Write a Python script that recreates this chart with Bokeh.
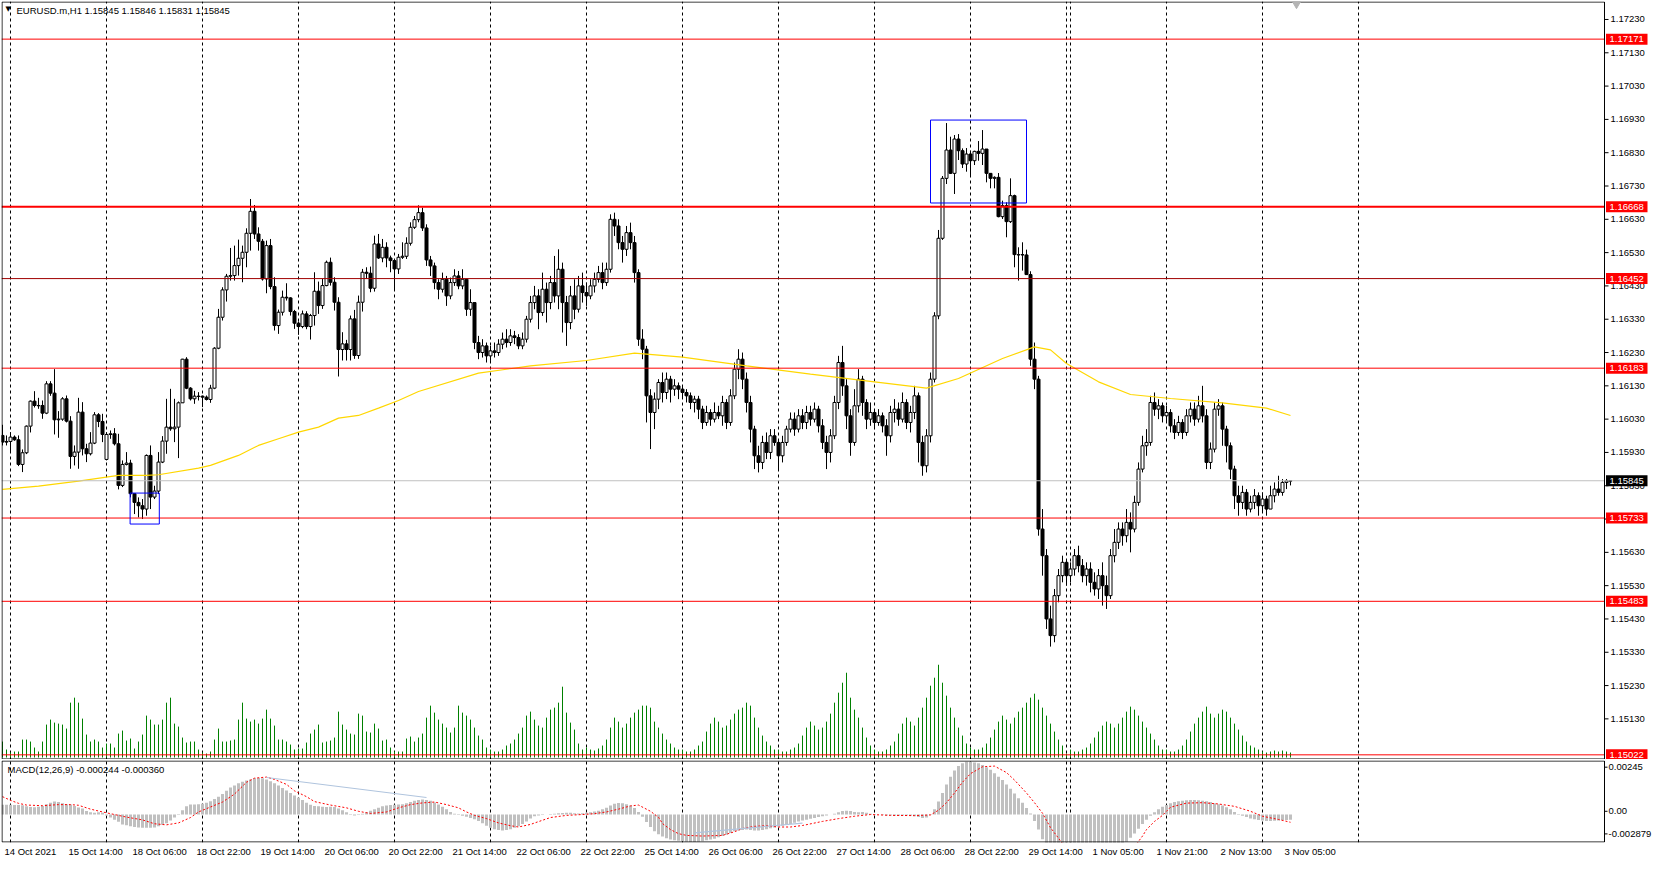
import numpy as np
from bokeh.plotting import figure
from bokeh.layouts import column
from bokeh.models import Range1d, FixedTicker, Label, Grid
from bokeh.core.properties import value
from bokeh.embed import file_html
from bokeh.resources import INLINE

# ---------------- data (prices in 1e-5 above 1.15000) ----------------
BASE = 1.15
PT = 1e-5

close = [
    961, 963, 976, 968, 894, 929, 1009, 1084, 1071, 1071,
    1048, 1136, 1108, 1028, 1030, 1091, 1024, 918, 931, 1051,
    941, 926, 958, 1043, 1023, 984, 984, 986, 956, 831,
    894, 898, 806, 780, 770, 760, 921, 796, 814, 901,
    964, 1006, 1001, 1006, 1079, 1210, 1123, 1091, 1099, 1099,
    1096, 1089, 1123, 1243, 1336, 1418, 1459, 1461, 1491, 1513,
    1531, 1588, 1654, 1586, 1564, 1451, 1551, 1428, 1311, 1351,
    1396, 1394, 1353, 1318, 1308, 1346, 1308, 1341, 1414, 1371,
    1431, 1501, 1441, 1381, 1239, 1256, 1239, 1331, 1221, 1381,
    1471, 1468, 1423, 1556, 1514, 1546, 1514, 1506, 1481, 1516,
    1519, 1558, 1606, 1629, 1650, 1604, 1508, 1490, 1440, 1420,
    1450, 1400, 1440, 1460, 1430, 1450, 1360, 1380, 1260, 1230,
    1250, 1220, 1235, 1230, 1255, 1270, 1260, 1280, 1275, 1250,
    1270, 1330, 1380, 1400, 1350, 1420, 1380, 1440, 1400, 1480,
    1380, 1320, 1400, 1360, 1430, 1410, 1400, 1430, 1450, 1470,
    1440, 1480, 1630, 1610, 1560, 1540, 1590, 1560, 1470, 1270,
    1240, 1100, 1050, 1090, 1140, 1110, 1150, 1120, 1130, 1120,
    1110, 1100, 1080, 1090, 1060, 1020, 1050, 1030, 1050, 1040,
    1080, 1020, 1100, 1180, 1210, 1150, 1080, 1000, 920, 900,
    960, 930, 980, 960, 920, 960, 1000, 1030, 1000, 1040,
    1020, 1050, 1030, 1060, 1010, 960, 930, 980, 1080, 1200,
    1130, 1040, 960, 1070, 1150, 1080, 1030, 1050, 1020, 1040,
    1010, 980, 1050, 1060, 1030, 1080, 1020, 1050, 1100, 960,
    890, 980, 1150, 1340, 1573, 1753, 1838, 1768, 1871, 1836,
    1796, 1826, 1806, 1834, 1828, 1841, 1768, 1753, 1756, 1638,
    1671, 1623, 1701, 1524, 1524, 1523, 1464, 1210, 1150, 700,
    620, 430, 380, 500, 560, 600, 560, 580, 620, 590,
    560, 580, 540, 520, 560, 530, 500, 620, 660, 700,
    680, 720, 700, 780, 880, 950, 960, 1080, 1060, 1070,
    1040, 1050, 1010, 990, 1020, 990, 1040, 1060, 1030, 1070,
    1040, 900, 940, 1060, 1070, 1000, 950, 880, 800, 780,
    810, 760, 780, 800, 770, 790, 760, 800, 820, 810,
    840, 845, 845,
]
high = [
    1013, 981, 991, 981, 981, 939, 1011, 1086, 1114, 1094,
    1086, 1144, 1144, 1180, 1054, 1096, 1101, 1039, 951, 1094,
    1081, 956, 991, 1051, 1048, 1046, 991, 996, 1003, 986,
    906, 931, 908, 806, 795, 790, 924, 951, 830, 931,
    979, 1091, 1121, 1091, 1083, 1211, 1216, 1126, 1115, 1111,
    1101, 1101, 1133, 1246, 1361, 1426, 1466, 1544, 1551, 1569,
    1551, 1603, 1691, 1673, 1606, 1571, 1566, 1571, 1456, 1359,
    1416, 1438, 1396, 1358, 1323, 1356, 1354, 1346, 1471, 1443,
    1451, 1506, 1515, 1456, 1396, 1291, 1268, 1341, 1358, 1401,
    1481, 1486, 1488, 1581, 1586, 1571, 1561, 1521, 1506, 1526,
    1561, 1576, 1621, 1640, 1672, 1665, 1615, 1520, 1500, 1450,
    1470, 1460, 1455, 1480, 1475, 1480, 1450, 1420, 1380, 1280,
    1270, 1260, 1250, 1260, 1270, 1290, 1300, 1300, 1295, 1285,
    1290, 1340, 1400, 1430, 1420, 1470, 1440, 1460, 1520, 1540,
    1500, 1400, 1430, 1450, 1460, 1470, 1440, 1450, 1470, 1490,
    1500, 1500, 1645, 1650, 1630, 1580, 1610, 1620, 1580, 1480,
    1300, 1250, 1120, 1110, 1150, 1170, 1170, 1160, 1150, 1140,
    1130, 1120, 1110, 1100, 1100, 1070, 1070, 1060, 1080, 1070,
    1100, 1090, 1120, 1200, 1240, 1230, 1170, 1100, 1010, 950,
    980, 990, 1000, 1000, 970, 980, 1010, 1050, 1050, 1060,
    1060, 1070, 1070, 1080, 1070, 1030, 980, 1000, 1100, 1220,
    1250, 1150, 1060, 1120, 1180, 1160, 1090, 1080, 1060, 1060,
    1050, 1030, 1070, 1090, 1080, 1110, 1090, 1070, 1130, 1110,
    980, 1000, 1170, 1351, 1598, 1760, 1919, 1878, 1883, 1886,
    1843, 1844, 1836, 1836, 1865, 1898, 1841, 1769, 1759, 1769,
    1686, 1681, 1753, 1704, 1546, 1561, 1539, 1474, 1260, 1160,
    760, 640, 470, 520, 580, 620, 610, 600, 640, 650,
    610, 600, 600, 570, 580, 600, 560, 640, 700, 720,
    720, 760, 750, 800, 900, 980, 1000, 1100, 1110, 1090,
    1080, 1070, 1060, 1030, 1040, 1030, 1060, 1080, 1080, 1100,
    1130, 1060, 960, 1080, 1090, 1080, 1010, 960, 890, 830,
    830, 820, 800, 820, 810, 810, 800, 830, 840, 860,
    850, 850, 846,
]
low = [
    951, 951, 929, 965, 889, 871, 925, 990, 1065, 1061,
    1031, 1045, 1100, 984, 974, 1025, 1020, 881, 891, 881,
    921, 901, 921, 955, 1006, 961, 906, 971, 951, 819,
    826, 891, 795, 745, 735, 730, 740, 760, 790, 805,
    898, 926, 995, 961, 913, 1079, 1120, 1086, 1076, 1086,
    1066, 1086, 1079, 1120, 1240, 1326, 1383, 1446, 1446, 1461,
    1441, 1486, 1536, 1571, 1536, 1446, 1408, 1420, 1296, 1286,
    1341, 1386, 1341, 1301, 1283, 1303, 1300, 1269, 1311, 1346,
    1361, 1429, 1431, 1356, 1158, 1206, 1206, 1206, 1211, 1211,
    1353, 1451, 1411, 1413, 1511, 1501, 1486, 1471, 1416, 1466,
    1511, 1511, 1551, 1601, 1621, 1595, 1490, 1460, 1420, 1390,
    1410, 1370, 1390, 1430, 1420, 1420, 1340, 1340, 1240, 1210,
    1215, 1200, 1205, 1215, 1220, 1240, 1245, 1250, 1255, 1240,
    1240, 1260, 1320, 1360, 1300, 1340, 1320, 1360, 1380, 1360,
    1290, 1250, 1300, 1330, 1350, 1380, 1370, 1390, 1410, 1440,
    1420, 1430, 1470, 1580, 1540, 1500, 1520, 1540, 1440, 1250,
    1210, 1020, 940, 1000, 1060, 1080, 1090, 1080, 1100, 1090,
    1095, 1080, 1060, 1050, 1030, 1000, 1010, 1010, 1020, 1030,
    1010, 1000, 1010, 1090, 1150, 1120, 1050, 960, 880, 870,
    880, 910, 910, 950, 880, 900, 950, 990, 980, 990,
    1000, 1000, 1010, 1020, 990, 940, 880, 900, 970, 1060,
    1100, 1000, 920, 950, 1050, 1040, 1000, 1010, 1000, 1010,
    990, 920, 960, 1020, 1010, 1020, 1000, 990, 1030, 900,
    860, 870, 960, 1140, 1330, 1568, 1736, 1766, 1706, 1808,
    1784, 1773, 1759, 1793, 1806, 1793, 1741, 1723, 1723, 1636,
    1631, 1576, 1619, 1486, 1446, 1476, 1463, 1190, 1120, 680,
    560, 400, 347, 360, 480, 540, 530, 540, 560, 570,
    540, 530, 510, 500, 490, 470, 460, 490, 600, 640,
    650, 660, 630, 690, 770, 870, 920, 950, 1040, 1030,
    1020, 1020, 990, 970, 980, 970, 980, 1020, 1010, 1020,
    1020, 880, 880, 930, 1040, 950, 900, 850, 760, 740,
    760, 740, 750, 760, 740, 750, 740, 760, 780, 800,
    800, 820, 831,
]
OPEN_FIRST = 981            # open of the first bar
OPEN_GAPS = {26: 909}       # Monday opening gap; other bars open at the previous close

volume = [
    16, 8, 5, 6, 6, 18, 18, 16, 10, 6,
    16, 33, 38, 35, 34, 33, 29, 55, 60, 55,
    39, 23, 16, 18, 16, 10, 14, 14, 10, 24,
    27, 17, 19, 9, 16, 23, 42, 38, 33, 33,
    38, 55, 60, 34, 31, 20, 15, 16, 16, 8,
    5, 4, 6, 18, 29, 16, 16, 17, 18, 38,
    55, 39, 36, 38, 34, 39, 48, 39, 32, 18,
    18, 16, 13, 8, 9, 9, 15, 24, 28, 33,
    15, 16, 17, 20, 46, 33, 28, 24, 23, 44,
    42, 26, 25, 34, 29, 17, 18, 10, 6, 6,
    6, 19, 21, 16, 20, 24, 40, 52, 45, 38,
    34, 30, 25, 30, 52, 45, 42, 38, 30, 22,
    18, 10, 8, 6, 6, 8, 12, 14, 18, 24,
    30, 42, 46, 38, 32, 30, 40, 48, 50, 55,
    71, 45, 35, 28, 14, 8, 10, 8, 7, 9,
    12, 18, 30, 40, 36, 30, 34, 40, 45, 48,
    52, 52, 50, 36, 30, 24, 18, 14, 10, 8,
    8, 6, 6, 8, 12, 16, 26, 34, 40, 36,
    30, 32, 38, 44, 48, 50, 55, 52, 40, 30,
    22, 16, 12, 8, 8, 6, 6, 8, 10, 14,
    22, 30, 36, 32, 28, 30, 36, 44, 55, 65,
    75, 85, 60, 48, 40, 30, 20, 12, 8, 6,
    6, 8, 12, 16, 24, 34, 40, 36, 32, 40,
    50, 60, 72, 80, 93, 75, 62, 50, 40, 30,
    22, 14, 10, 8, 8, 10, 14, 20, 28, 36,
    42, 38, 34, 40, 46, 50, 55, 60, 64, 58,
    50, 42, 34, 26, 18, 12, 4, 8, 6, 6,
    8, 10, 14, 20, 26, 32, 36, 34, 30, 34,
    40, 46, 51, 48, 42, 36, 30, 24, 18, 12,
    8, 8, 6, 6, 8, 12, 18, 26, 34, 40,
    46, 51, 44, 40, 44, 48, 46, 40, 34, 28,
    22, 16, 12, 10, 8, 6, 5, 6, 7, 6,
    7, 6, 5,
]

# MACD main (histogram) in 1e-5
macd_main = [
    45, 45, 45, 44, 44, 43, 38, 35, 34, 36,
    40, 48, 55, 60, 58, 52, 48, 46, 40, 33,
    28, 16, 10, 8, 10, 8, -4, -14, -24, -34,
    -46, -50, -55, -58, -60, -62, -62, -61, -60, -55,
    -48, -40, -28, -14, -2, 20, 38, 46, 47, 48,
    50, 55, 62, 72, 82, 95, 110, 125, 135, 145,
    152, 158, 163, 168, 170, 168, 163, 155, 145, 135,
    123, 112, 100, 88, 78, 68, 55, 45, 40, 38,
    36, 35, 36, 35, 28, 20, 10, 2, -4, -2,
    4, 10, 18, 25, 32, 38, 42, 44, 45, 46,
    48, 52, 58, 64, 68, 70, 68, 64, 56, 46,
    36, 24, 12, 4, -2, -6, -10, -16, -22, -30,
    -40, -52, -62, -68, -72, -74, -72, -68, -62, -54,
    -44, -32, -18, -8, -4, -2, 0, 2, 4, 6,
    7, 8, 8, 6, 5, 6, 8, 10, 14, 18,
    24, 32, 42, 50, 54, 52, 48, 42, 30, 12,
    -10, -35, -58, -78, -92, -102, -110, -116, -120, -122,
    -124, -126, -128, -128, -126, -124, -120, -116, -112, -106,
    -100, -94, -86, -78, -74, -72, -70, -72, -74, -74,
    -72, -68, -64, -60, -56, -52, -48, -44, -38, -32,
    -28, -24, -20, -16, -12, -8, -4, 0, 4, 10,
    16, 18, 16, 12, 10, 12, 8, 4, 2, 0,
    -2, -4, -4, -6, -6, -4, -4, -6, -8, -12,
    -16, -14, -2, 25, 60, 100, 140, 175, 205, 225,
    238, 245, 245, 242, 238, 230, 220, 208, 192, 176,
    160, 140, 120, 98, 76, 55, 30, 5, -30, -70,
    -115, -160, -205, -240, -262, -276, -284, -288, -286, -282,
    -276, -268, -258, -246, -234, -222, -210, -196, -180, -162,
    -144, -126, -108, -88, -66, -44, -24, -6, 10, 24,
    36, 44, 52, 58, 62, 64, 66, 68, 68, 66,
    64, 62, 58, 52, 48, 42, 34, 24, 12, 2,
    -6, -12, -18, -22, -26, -28, -30, -30, -29, -28,
    -27, -26, -24.4,
]
signal_bar = [0, 2, 4, 6, 10, 14, 17, 19, 22, 25, 28, 31, 35, 38, 41, 44, 47, 49, 52, 55,
              58, 61, 63, 66, 68, 71, 73, 76, 78, 82, 86, 89, 92, 96, 99, 102, 105, 108, 111, 114,
              116, 118, 121, 124, 127, 129, 132, 134, 137, 141, 145, 148, 151, 154, 157, 159, 162, 164, 165, 167,
              169, 171, 175, 180, 183, 185, 188, 191, 194, 197, 200, 205, 209, 213, 217, 222, 228, 232, 234, 236,
              238, 240, 242, 245, 248, 251, 253, 256, 258, 260, 262, 264, 266, 268, 271, 274, 277, 280, 283, 285,
              286, 288, 290, 292, 296, 300, 304, 308, 312, 315, 319, 322]
signal_val = [83, 66, 52, 44, 41, 46, 46, 43, 25, 12, 0, -12, -25, -43, -48, -39, -14, 12, 35, 58,
              95, 150, 169, 174, 163, 140, 110, 83, 60, 44, 31, 15, 5, 12, 31, 46, 54, 58, 46, 31,
              12, -4, -19, -39, -52, -58, -46, -33, -14, -4, 0, 4, 12, 25, 40, 44, 15, -13, -42, -70,
              -89, -97, -100, -97, -80, -65, -55, -52, -58, -58, -51, -32, -19, -8, 0, -4, -5, -2, 20, 55,
              100, 150, 190, 222, 225, 195, 160, 100, 55, 6, -61, -110, -160, -200, -232, -240, -230, -200, -150, -100,
              -70, -32, -4, 34, 53, 55, 49, 38, 15, -8, -23, -36]

# moving average (yellow) read at these bars
ma_bar = [0, 9, 19, 29, 36, 39, 49, 52, 59, 64, 69, 74, 79, 84, 89, 94, 99, 104, 119, 132,
          146, 158, 170, 186, 202, 218, 231, 239, 250, 258, 262, 266, 274, 282, 292, 305, 316, 322]
ma_val = [819, 829, 844, 861, 861, 863, 883, 891, 921, 951, 971, 991, 1006, 1033, 1041, 1063, 1086, 1113, 1168, 1190,
          1206, 1228, 1216, 1190, 1165, 1142, 1123, 1152, 1212, 1247, 1238, 1197, 1142, 1104, 1092, 1079, 1063, 1041]

red_levels = [1.17171, 1.16668, 1.16452, 1.16183, 1.15733, 1.15483, 1.15022]
level_colors = ["#ff0000", "#ff0000", "#a00000", "#ff0000", "#ff0000", "#ff0000", "#ff0000"]
level_widths = [1, 2, 1, 1, 1, 1, 1]
bid_price = 1.15845

date_bars = [0, 16, 32, 48, 64, 80, 96, 112, 128, 144, 160, 176, 192, 208, 224, 240, 256, 272, 288, 304, 320]
date_labels = ["14 Oct 2021", "15 Oct 14:00", "18 Oct 06:00", "18 Oct 22:00", "19 Oct 14:00", "20 Oct 06:00",
               "20 Oct 22:00", "21 Oct 14:00", "22 Oct 06:00", "22 Oct 22:00", "25 Oct 14:00", "26 Oct 06:00",
               "26 Oct 22:00", "27 Oct 14:00", "28 Oct 06:00", "28 Oct 22:00", "29 Oct 14:00", "1 Nov 05:00",
               "1 Nov 21:00", "2 Nov 13:00", "3 Nov 05:00"]
day_starts = [2, 26, 50, 74, 98, 122, 146, 170, 194, 218, 242, 266, 267, 291, 315, 339]
price_ticks = [1.15130, 1.15230, 1.15330, 1.15430, 1.15530, 1.15630, 1.15730, 1.15830, 1.15930, 1.16030,
               1.16130, 1.16230, 1.16330, 1.16430, 1.16530, 1.16630, 1.16730, 1.16830, 1.16930, 1.17030,
               1.17130, 1.17230]
macd_scale_pos = [0.0022, 0.00015, -0.0009]
macd_scale_txt = ["0.00245", "0.00", "-0.002879"]

# boxes drawn on the chart: (bar_left, bar_right, price_low, price_high)
boxes = [(31.9, 39.2, 1.15715, 1.15808), (232.0, 256.0, 1.16679, 1.16928)]
# light-blue trend lines on MACD window: (bar0, val0, bar1, val1) in 1e-5
macd_lines = [(66, 172, 106, 79), (173, -85, 200, -40)]

# ---------------- geometry ----------------
FONT = "Liberation Sans"
FS = "9.5px"
FRAME_W = 1653                    # chart + price-scale strip
PXB = 4.0                         # pixels per bar
CHART_PX = 1603                   # chart part
X0 = -0.25
XC = X0 + CHART_PX / PXB          # right border of the chart, in bars
XR = Range1d(X0, X0 + FRAME_W / PXB)
dx = lambda px: px / PXB

Y0, Y1 = 1.15008, 1.17284
H1 = 758
dy1 = (Y1 - Y0) / H1
M0, M1 = -0.0013, 0.00251
H2 = 82
dy2 = (M1 - M0) / H2

# ---------------- derived bar geometry ----------------
n = min(len(close), len(high), len(low), len(volume), len(macd_main))
idx = np.arange(n)
c = np.array(close[:n], dtype=float)
o = np.array([OPEN_FIRST] + close[:n - 1], dtype=float)
for k, v in OPEN_GAPS.items():
    if k < n:
        o[k] = v
h = np.maximum(np.array(high[:n], dtype=float), np.maximum(o, c))
l = np.minimum(np.array(low[:n], dtype=float), np.minimum(o, c))
top = np.maximum(o, c)
bot = np.minimum(o, c)
bot = np.where(top - bot < 1, top - 1, bot)
P = lambda a: np.asarray(a, dtype=float) * PT + BASE

# ---------------- main window ----------------
p1 = figure(frame_width=FRAME_W, frame_height=H1, x_range=XR, y_range=Range1d(Y0, Y1),
            x_axis_location=None, y_axis_location=None, toolbar_location=None, output_backend="svg",
            min_border_left=1, min_border_right=0, min_border_top=1, min_border_bottom=0)
p1.grid.visible = False
p1.outline_line_color = None
p1.add_layout(Grid(dimension=0, ticker=FixedTicker(ticks=day_starts), grid_line_color="black",
                   grid_line_dash="3 3", grid_line_width=1))

# volumes
p1.extra_y_ranges = {"vol": Range1d(-2, 758)}
p1.segment(idx, 0, idx, np.array(volume[:n], dtype=float), y_range_name="vol",
           line_color="#008000", line_width=1)

# candles
p1.segment(idx, P(l), idx, P(h), line_color="black", line_width=1)
bull = c >= o
p1.vbar(x=idx[bull], top=P(top[bull]), bottom=P(bot[bull]), width=0.75,
        fill_color="white", line_color="black", line_width=1)
p1.vbar(x=idx[~bull], top=P(top[~bull]), bottom=P(bot[~bull]), width=0.75,
        fill_color="black", line_color="black", line_width=1)

# moving average
p1.line(ma_bar, P(ma_val), line_color="#ffd700", line_width=1.2)

# horizontal levels and bid line (chart part only)
p1.segment([X0] * len(red_levels), red_levels, [XC] * len(red_levels), red_levels,
           line_color=level_colors, line_width=level_widths)
p1.segment([X0], [bid_price], [XC], [bid_price], line_color="#c0c0c0", line_width=1)

# rectangles drawn on the chart
for (b0, b1, y0, y1) in boxes:
    p1.quad(left=[b0], right=[b1], bottom=[y0], top=[y1], fill_color=None, line_color="#0000ff", line_width=1)

# chart border
p1.quad(left=[X0 + dx(0.5)], right=[XC], bottom=[Y0 + 0.5 * dy1], top=[Y1 - 0.5 * dy1],
        fill_color=None, line_color="black", line_width=1)

# shift marker
p1.scatter([323.5], [Y1 - 2 * dy1], marker="inverted_triangle", size=9, fill_color="#b4b4b4",
           line_color="#b4b4b4")

# price scale
p1.segment([XC] * len(price_ticks), price_ticks, [XC + dx(4)] * len(price_ticks), price_ticks,
           line_color="black", line_width=1)
p1.text(x=[XC + dx(6)] * len(price_ticks), y=price_ticks, text=[f"{t:.5f}" for t in price_ticks],
        text_font=value(FONT), text_font_size=value(FS), text_color="black",
        text_baseline="middle", text_align="left")
# level tags on the scale
tag_px = [(lv, "#ff0000") for lv in red_levels] + [(bid_price, "#000000")]
p1.quad(left=[XC + dx(1.5)] * len(tag_px), right=[XC + dx(43)] * len(tag_px),
        bottom=[lv - 5.5 * dy1 for lv, _ in tag_px], top=[lv + 5.5 * dy1 for lv, _ in tag_px],
        fill_color=[col for _, col in tag_px], line_color=None)
p1.text(x=[XC + dx(5)] * len(tag_px), y=[lv for lv, _ in tag_px], text=[f"{lv:.5f}" for lv, _ in tag_px],
        text_font=value(FONT), text_font_size=value(FS), text_color="white",
        text_baseline="middle", text_align="left")

# title
p1.add_layout(Label(x=X0, y=Y1, x_offset=4, y_offset=-3, text="\u25bc", text_color="black",
                    text_font="DejaVu Sans", text_font_size="7px", text_baseline="top"))
p1.add_layout(Label(x=X0, y=Y1, x_offset=15, y_offset=-3,
                    text="EURUSD.m,H1  1.15845 1.15846 1.15831 1.15845", text_color="black",
                    text_font=FONT, text_font_size=FS, text_baseline="top"))

# ---------------- MACD window ----------------
p2 = figure(frame_width=FRAME_W, frame_height=H2, x_range=XR, y_range=Range1d(M0, M1),
            x_axis_location="below", y_axis_location=None, toolbar_location=None, output_backend="svg",
            min_border_left=1, min_border_right=0, min_border_top=1, min_border_bottom=0)
p2.grid.visible = False
p2.outline_line_color = None
p2.add_layout(Grid(dimension=0, ticker=FixedTicker(ticks=day_starts), grid_line_color="black",
                   grid_line_dash="3 3", grid_line_width=1))

mm = np.array(macd_main[:n], dtype=float) * PT
p2.vbar(x=idx, top=mm, bottom=0, width=0.75, fill_color="#c0c0c0", line_color=None)
p2.line(signal_bar, np.array(signal_val, dtype=float) * PT, line_color="#ff0000", line_width=1,
        line_dash="2 2")
for (b0, v0, b1, v1) in macd_lines:
    p2.segment([b0], [v0 * PT], [b1], [v1 * PT], line_color="#b0c4de", line_width=1.2)

p2.quad(left=[X0 + dx(0.5)], right=[XC], bottom=[M0 + 0.5 * dy2], top=[M1 - 0.5 * dy2],
        fill_color=None, line_color="black", line_width=1)
p2.segment([XC] * 3, macd_scale_pos, [XC + dx(3)] * 3, macd_scale_pos, line_color="black", line_width=1)
p2.text(x=[XC + dx(4)] * 3, y=macd_scale_pos, text=macd_scale_txt,
        text_font=value(FONT), text_font_size=value(FS), text_color="black",
        text_baseline="middle", text_align="left")

# date labels: Bokeh centres axis labels on their tick, so the tick sits at the middle of
# the text that starts at the labelled bar
CHAR_EM = {" ": 0.278, ":": 0.278, "O": 0.778, "c": 0.5, "t": 0.278, "N": 0.722, "o": 0.556, "v": 0.5}
def text_px(s, size=9.5):
    return sum(CHAR_EM.get(ch, 0.556) for ch in s) * size

date_ticks = [round(b + 0.5 + text_px(s) / 2 / PXB, 4) for b, s in zip(date_bars, date_labels)]
axx = p2.xaxis[0]
axx.ticker = FixedTicker(ticks=date_ticks)
axx.major_label_overrides = {t: s for t, s in zip(date_ticks, date_labels)}
axx.major_label_text_font = FONT
axx.major_label_text_font_size = FS
axx.major_label_text_color = "black"
axx.major_tick_out = 0
axx.major_tick_in = 0
axx.minor_tick_line_color = None
axx.axis_line_color = None
axx.major_label_standoff = 3

p2.add_layout(Label(x=X0, y=M1, x_offset=6, y_offset=-3,
                    text="MACD(12,26,9) -0.000244 -0.000360", text_color="black",
                    text_font=FONT, text_font_size=FS, text_baseline="top"))

layout = column(p1, p2)
open("out.html", "w").write(file_html(layout, INLINE))
